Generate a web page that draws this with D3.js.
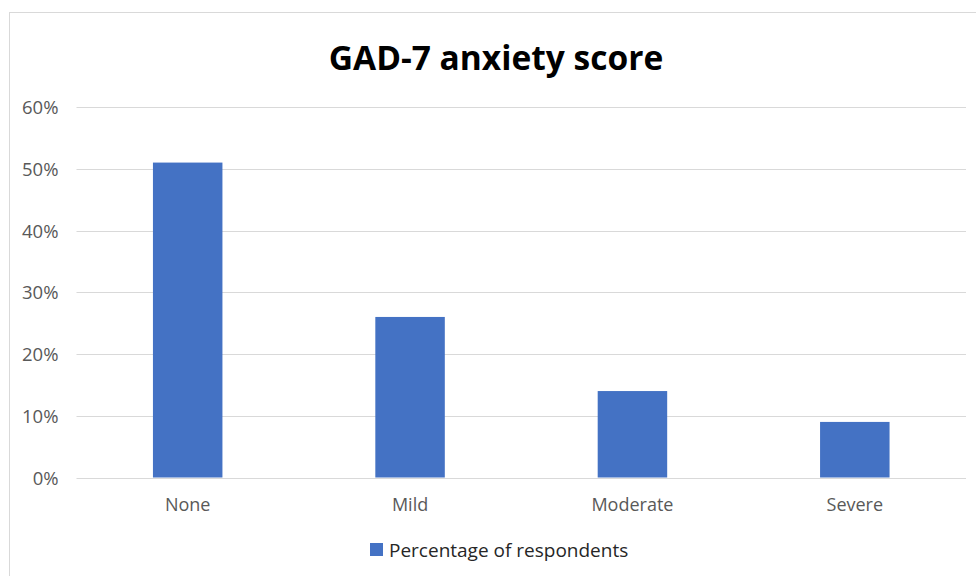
<!DOCTYPE html>
<html>
<head>
<meta charset="utf-8">
<script src="https://cdn.jsdelivr.net/npm/d3@7"></script>
<style>
  html, body { margin: 0; padding: 0; background: #fff; }
  svg { display: block; }
</style>
</head>
<body>
<svg id="chart" width="976" height="576"></svg>
<script>
const categories = ["None", "Mild", "Moderate", "Severe"];
const values = [51, 26, 14, 9];
const yTicks = [0, 10, 20, 30, 40, 50, 60];
const title = "GAD-7 anxiety score";
const seriesName = "Percentage of respondents";

const svg = d3.select("#chart");
const font = "'Open Sans', 'Liberation Sans', sans-serif";

// chart area border
svg.append("rect")
  .attr("x", 9.5).attr("y", 12.5)
  .attr("width", 1000).attr("height", 600)
  .attr("fill", "#fff")
  .attr("stroke", "#d9d9d9").attr("stroke-width", 1);

const x0 = 76.5, x1 = 966, yTop = 107, yBot = 477.5;

const x = d3.scaleBand().domain(categories).range([x0, x1])
  .paddingInner(0.6875).paddingOuter(0.34375);
const y = d3.scaleLinear().domain([0, 60]).range([yBot, yTop]);

// gridlines
svg.append("g").selectAll("line").data(yTicks).join("line")
  .attr("x1", x0).attr("x2", x1)
  .attr("y1", d => Math.round(y(d)) + 0.5).attr("y2", d => Math.round(y(d)) + 0.5)
  .attr("stroke", "#d9d9d9").attr("stroke-width", 1);

// y axis labels
const yAxis = d3.axisLeft(y).tickValues(yTicks).tickFormat(d => d + "%").tickSize(0).tickPadding(0);
const gy = svg.append("g").attr("transform", `translate(58.5,0)`).call(yAxis);
gy.select(".domain").remove();
gy.selectAll("text").attr("font-family", font).attr("font-size", 18.5).attr("fill", "#595959")
  .attr("dy", "0.36em");

// bars
svg.append("g").selectAll("rect").data(values).join("rect")
  .attr("x", (d, i) => x(categories[i]))
  .attr("width", x.bandwidth())
  .attr("y", d => y(d))
  .attr("height", d => y(0) - y(d))
  .attr("fill", "#4472c4");

// x axis labels
const xAxis = d3.axisBottom(x).tickSize(0).tickPadding(0);
const gx = svg.append("g").attr("transform", `translate(0,510.5)`).call(xAxis);
gx.select(".domain").remove();
gx.selectAll("text").attr("font-family", font).attr("font-size", 18).attr("fill", "#595959")
  .attr("dy", "0");

// title
svg.append("text")
  .attr("x", 496).attr("y", 70)
  .attr("text-anchor", "middle")
  .attr("font-family", font).attr("font-weight", "bold")
  .attr("font-size", 33.5).attr("fill", "#000")
  .text(title);

// legend
svg.append("rect").attr("x", 370).attr("y", 543).attr("width", 13).attr("height", 13).attr("fill", "#4472c4");
svg.append("text")
  .attr("x", 389).attr("y", 557)
  .attr("font-family", font).attr("font-size", 19).attr("fill", "#262626")
  .text(seriesName);
</script>
</body>
</html>
